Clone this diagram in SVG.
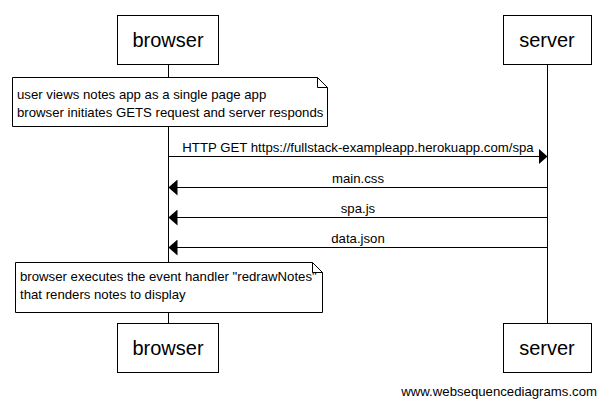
<svg xmlns="http://www.w3.org/2000/svg" width="605" height="407" viewBox="0 0 605 407">
<style>
.box{fill:#fff;stroke:#000;stroke-width:1}
.life{stroke:#000;stroke-width:1}
.actor{font-family:"Liberation Sans",Arial,sans-serif;font-size:20px;text-anchor:middle;fill:#000}
.lbl{font-family:"Liberation Sans",Arial,sans-serif;font-size:13.2px;fill:#000}
.mid{text-anchor:middle}
.msg{stroke:#000;stroke-width:1;fill:none}
</style>
<defs>
<marker id="ah" markerWidth="9" markerHeight="16" refX="9" refY="8" orient="auto" markerUnits="userSpaceOnUse">
<path d="M0,0 L9,8 L0,16 Z" fill="#000"/>
</marker>
</defs>
<g id="lifelines">
<line class="life" x1="168.5" y1="64" x2="168.5" y2="323"/>
<line class="life" x1="547.5" y1="64" x2="547.5" y2="323"/>
</g>
<g id="browser-top"><rect class="box" x="117.5" y="15.5" width="101" height="49"/><text class="actor" x="168" y="47">browser</text></g>
<g id="server-top"><rect class="box" x="503.5" y="15.5" width="88" height="49"/><text class="actor" x="547" y="47">server</text></g>
<g id="note1">
<path class="box" d="M12.5,77.5 H317.5 L327.5,87.5 V126.5 H12.5 Z"/>
<path class="msg" d="M317.5,77.5 V87.5 H327.5"/>
<text class="lbl" x="17" y="99">user views notes app as a single page app</text>
<text class="lbl" x="17" y="117">browser initiates GETS request and server responds</text>
</g>
<g id="connectors">
<line class="msg" x1="168.5" y1="156.5" x2="547.5" y2="156.5" marker-end="url(#ah)"/>
<text class="lbl mid" x="358" y="152">HTTP GET https://fullstack-exampleapp.herokuapp.com/spa</text>
<line class="msg" x1="547.5" y1="187.5" x2="168.5" y2="187.5" marker-end="url(#ah)"/>
<text class="lbl mid" x="358" y="183">main.css</text>
<line class="msg" x1="547.5" y1="217.5" x2="168.5" y2="217.5" marker-end="url(#ah)"/>
<text class="lbl mid" x="358" y="213">spa.js</text>
<line class="msg" x1="547.5" y1="247.5" x2="168.5" y2="247.5" marker-end="url(#ah)"/>
<text class="lbl mid" x="358" y="243">data.json</text>
</g>
<g id="note2">
<path class="box" d="M15.5,262.5 H312.5 L322.5,272.5 V312.5 H15.5 Z"/>
<path class="msg" d="M312.5,262.5 V272.5 H322.5"/>
<text class="lbl" x="20" y="281">browser executes the event handler "redrawNotes"</text>
<text class="lbl" x="20" y="299">that renders notes to display</text>
</g>
<g id="browser-bottom"><rect class="box" x="117.5" y="323.5" width="101" height="49"/><text class="actor" x="168" y="355">browser</text></g>
<g id="server-bottom"><rect class="box" x="503.5" y="323.5" width="88" height="49"/><text class="actor" x="547" y="355">server</text></g>
<text class="lbl" x="597" y="396" style="text-anchor:end">www.websequencediagrams.com</text>
</svg>
